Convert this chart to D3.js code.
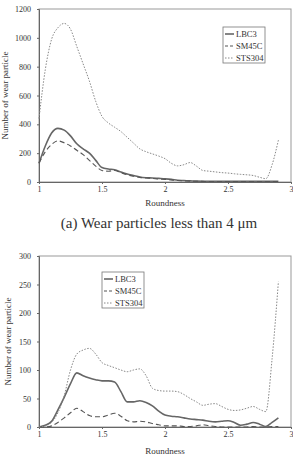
<!DOCTYPE html>
<html>
<head>
<meta charset="utf-8">
<script src="https://cdn.jsdelivr.net/npm/d3@7"></script>
<style>
body { margin: 0; background: #fff; }
svg text { font-family: "Liberation Serif", "Times New Roman", serif; fill: #333; }
</style>
</head>
<body>
<div id="plot"></div>
<script>
var width = 293;
var height = 463;

// roundness values (x)
var roundness = [1, 1.05, 1.1, 1.15, 1.2, 1.25, 1.3, 1.35, 1.4, 1.45, 1.5, 1.55, 1.6, 1.65, 1.7, 1.75, 1.8, 1.85, 1.9, 1.95,
  2, 2.05, 2.1, 2.15, 2.2, 2.25, 2.3, 2.35, 2.4, 2.45, 2.5, 2.55, 2.6, 2.65, 2.7, 2.75, 2.8, 2.85, 2.9];

var seriesNames = ["LBC3", "SM45C", "STS304"];

// (a) less than 4 um
var lbc3A = [130, 250, 340, 372, 360, 320, 265, 230, 200, 150, 100, 90, 85, 70, 55, 45, 35, 30, 28, 25,
  22, 18, 12, 10, 8, 6, 5, 5, 4, 4, 5, 4, 4, 4, 4, 4, 4, 5, 5];
var sm45cA = [130, 210, 260, 285, 272, 250, 220, 190, 150, 110, 80, 75, 80, 65, 50, 40, 32, 28, 25, 20,
  18, 14, 10, 8, 6, 5, 4, 3, 3, 3, 3, 3, 3, 3, 3, 3, 3, 3, 3];
var sts304A = [440, 780, 990, 1070, 1100, 1060, 940, 820, 700, 560, 455, 410, 380, 350, 310, 270, 230, 210, 195, 180,
  162, 130, 112, 120, 135, 110, 80, 75, 70, 65, 62, 57, 53, 50, 45, 33, 23, 120, 290];

// (b) second size class
var lbc3B = [0, 3, 10, 30, 52, 76, 95, 90, 86, 83, 81, 81, 79, 62, 44, 44, 46, 43, 37, 28,
  21, 19, 18, 16, 14, 13, 12, 10, 9, 10, 11, 8, 3, 5, 8, 5, 1, 8, 16];
var sm45cB = [0, 0, 2, 8, 16, 25, 33, 27, 20, 18, 18, 21, 24, 19, 11, 9, 10, 9, 6, 4,
  2, 2, 2, 1, 1, 2, 4, 2, 1, 0, 0, 0, 0, 0, 1, 0, 0, 1, 1];
var sts304B = [0, 2, 8, 25, 55, 100, 128, 135, 138, 128, 113, 108, 104, 100, 97, 100, 102, 90, 68, 64,
  63, 63, 62, 57, 50, 44, 38, 40, 41, 36, 31, 29, 30, 33, 36, 31, 27, 120, 255];

var yTicksA = [0, 200, 400, 600, 800, 1000, 1200];
var yTicksB = [0, 50, 100, 150, 200, 250, 300];
var xTicks = [1, 1.5, 2, 2.5, 3];

var styles = {
  "LBC3":   { stroke: "#666", width: 1.6, dash: null },
  "SM45C":  { stroke: "#555", width: 1.1, dash: "5,3" },
  "STS304": { stroke: "#888", width: 1, dash: "1.5,1.5" }
};

var svg = d3.select("div#plot")
  .append("svg")
  .attr("width", width)
  .attr("height", height);

function drawChart(opt) {
  var g = svg.append("g");
  var x = d3.scaleLinear().domain([1, 3]).range([opt.left, opt.right]);
  var y = d3.scaleLinear().domain([0, opt.yMax]).range([opt.bottom, opt.top]);

  // frame
  g.append("rect")
    .attr("x", opt.left).attr("y", opt.top)
    .attr("width", opt.right - opt.left).attr("height", opt.bottom - opt.top)
    .attr("fill", "none").attr("stroke", "#999").attr("stroke-width", 1);

  var yAxis = g.append("g")
    .attr("transform", "translate(" + opt.left + ",0)")
    .call(d3.axisLeft(y).tickValues(opt.yTicks).tickSize(2).tickFormat(d3.format("d")));
  yAxis.select(".domain").attr("stroke", "#666");
  yAxis.selectAll("line").attr("stroke", "#666");
  yAxis.selectAll("text").attr("font-size", 8).attr("dx", -3).attr("fill", "#333");

  var xAxis = g.append("g")
    .attr("transform", "translate(0," + opt.bottom + ")")
    .call(d3.axisBottom(x).tickValues(xTicks).tickSize(2).tickFormat(d3.format("")));
  xAxis.select(".domain").attr("stroke", "#666");
  xAxis.selectAll("line").attr("stroke", "#666");
  xAxis.selectAll("text").attr("font-size", 8).attr("dy", opt.tickDy).attr("fill", "#333");

  g.append("text")
    .attr("x", (opt.left + opt.right) / 2)
    .attr("y", opt.xLabelY)
    .attr("text-anchor", "middle")
    .attr("font-size", 9)
    .text("Roundness");

  g.append("text")
    .attr("transform", "translate(" + opt.yLabelX + "," + ((opt.top + opt.bottom) / 2) + ") rotate(-90)")
    .attr("text-anchor", "middle")
    .attr("font-size", 9)
    .text("Number of wear particle");

  var line = d3.line()
    .x(function(d) { return x(d[0]); })
    .y(function(d) { return y(d[1]); })
    .curve(d3.curveMonotoneX);

  seriesNames.forEach(function(name, i) {
    var pts = roundness.map(function(r, j) { return [r, opt.data[i][j]]; });
    var s = styles[name];
    g.append("path")
      .attr("d", line(pts))
      .attr("fill", "none")
      .attr("stroke", s.stroke)
      .attr("stroke-width", s.width)
      .attr("stroke-dasharray", s.dash);
  });

  // legend
  var lg = g.append("g").attr("transform", "translate(" + opt.legX + "," + opt.legY + ")");
  lg.append("rect")
    .attr("width", 42).attr("height", 36)
    .attr("fill", "#fff").attr("stroke", "#777").attr("stroke-width", 0.8);
  seriesNames.forEach(function(name, i) {
    var s = styles[name];
    var yy = 7 + i * 12;
    lg.append("line")
      .attr("x1", 2).attr("x2", 11).attr("y1", yy).attr("y2", yy)
      .attr("stroke", s.stroke).attr("stroke-width", s.width)
      .attr("stroke-dasharray", s.dash === "5,3" ? "3,2" : s.dash);
    lg.append("text")
      .attr("x", 13).attr("y", yy + 3)
      .attr("font-size", 8.5)
      .text(name);
  });
}

drawChart({
  left: 39, right: 291, top: 9, bottom: 182, yMax: 1200, yTicks: yTicksA,
  data: [lbc3A, sm45cA, sts304A], tickDy: 5, xLabelY: 206, yLabelX: 8,
  legX: 223, legY: 27
});

svg.append("text")
  .attr("x", 159).attr("y", 228)
  .attr("text-anchor", "middle")
  .attr("font-size", 15)
  .attr("fill", "#222")
  .text("(a) Wear particles less than 4 \u03bcm");

drawChart({
  left: 39, right: 291, top: 256, bottom: 427, yMax: 300, yTicks: yTicksB,
  data: [lbc3B, sm45cB, sts304B], tickDy: 5, xLabelY: 454, yLabelX: 11,
  legX: 102, legY: 272
});
</script>
</body>
</html>
